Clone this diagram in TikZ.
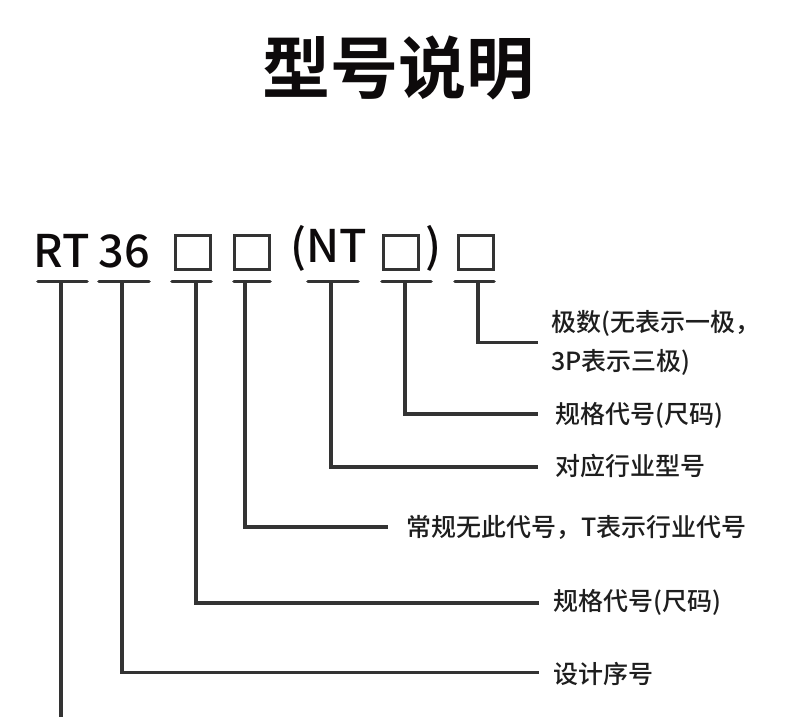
\documentclass[tikz,border=0pt]{standalone}
\usepackage{fontspec}
\setmainfont{Noto Sans CJK SC}
\newfontfamily\medfont{Noto Sans CJK SC Medium}
\newfontfamily\boldfont{Noto Sans CJK SC Bold}
\definecolor{ink}{HTML}{0D0A0B}
\definecolor{linec}{HTML}{333333}
\definecolor{labc}{HTML}{1E1E1E}
\begin{document}
\begin{tikzpicture}[x=1pt,y=-1pt,
  title/.style={inner sep=0pt,text=ink,font=\boldfont\fontsize{68}{68}\selectfont},
  code/.style={inner sep=0pt,anchor=base,text=ink,font=\medfont\fontsize{45}{45}\selectfont},
  codebox/.style={draw=linec,line width=3pt,minimum width=35pt,minimum height=34pt,inner sep=0pt},
  lab/.style={inner sep=0pt,anchor=west,text=labc,font=\medfont\fontsize{25}{39}\selectfont,align=left},
  uline/.style={draw=linec,line width=3.6pt,line cap=round},
  conn/.style={draw=linec,line width=3.6pt}]
\useasboundingbox (0,0) rectangle (790,717);
\node[title] (t) at (398,67.5) {型号说明};
% code elements
\node[code] (rt) at (61.5,267) {RT};
\node[code] (n36) at (124,267) {36};
\node[codebox] (b1) at (193,252) {};
\node[codebox] (b2) at (252,252) {};
\node[code] (nt) at (329,262) {(NT};
\node[codebox] (b3) at (401,252) {};
\node[code] (rp) at (434,262) {)};
\node[codebox] (b4) at (476,252) {};
% underline coordinates
\coordinate (u1a) at (38,281.5);  \coordinate (u1b) at (87,281.5);  \coordinate (u1) at (61,281.5);
\coordinate (u2a) at (99,281.5);  \coordinate (u2b) at (149,281.5); \coordinate (u2) at (122,281.5);
\coordinate (u3a) at (172,281.5); \coordinate (u3b) at (211,281.5); \coordinate (u3) at (196,281.5);
\coordinate (u4a) at (234,281.5); \coordinate (u4b) at (270,281.5); \coordinate (u4) at (245,281.5);
\coordinate (u5a) at (308,281.5); \coordinate (u5b) at (358,281.5); \coordinate (u5) at (331,281.5);
\coordinate (u6a) at (382,281.5); \coordinate (u6b) at (431,281.5); \coordinate (u6) at (405,281.5);
\coordinate (u7a) at (455,281.5); \coordinate (u7b) at (494,281.5); \coordinate (u7) at (478,281.5);
\foreach \i in {1,...,7} {\draw[uline] (u\i a) -- (u\i b);}
% labels
\node[lab] (l7) at (551,342.5) {极数(无表示一极，\\3P表示三极)};
\node[lab] (l6) at (555,415) {规格代号(尺码)};
\node[lab] (l5) at (555,466) {对应行业型号};
\node[lab] (l4) at (406,527) {常规无此代号，T表示行业代号};
\node[lab] (l3) at (553,602) {规格代号(尺码)};
\node[lab] (l2) at (553,673.5) {设计序号};
\coordinate (bottom) at (61,717);
% connectors
\draw[conn] (u7) |- ([xshift=-13pt]l7.west);
\draw[conn] (u6) |- ([xshift=-17pt,yshift=1pt]l6.west);
\draw[conn] (u5) |- ([xshift=-17pt,yshift=-1pt]l5.west);
\draw[conn] (u4) |- ([xshift=-18pt]l4.west);
\draw[conn] (u3) |- ([xshift=-14pt,yshift=-1pt]l3.west);
\draw[conn] (u2) |- ([xshift=-14pt,yshift=1pt]l2.west);
\draw[conn] (u1) -- (bottom);
\end{tikzpicture}
\end{document}
